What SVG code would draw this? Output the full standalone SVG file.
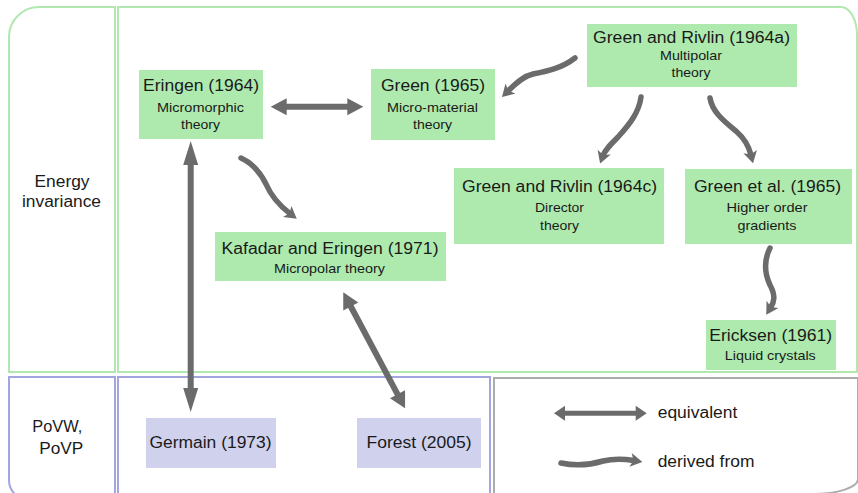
<svg xmlns="http://www.w3.org/2000/svg" width="858" height="493" viewBox="0 0 858 493">
<style>
text{font-family:"Liberation Sans",Arial,sans-serif;fill:#1a1a1a;text-anchor:middle}
.t{font-size:16px}
.s{font-size:13px}
.l{font-size:16px;text-anchor:start}
.gn{fill:#aeeaae}
.pv{fill:#d0d1ec}
.fg{fill:none;stroke:#b0e8b0;stroke-width:2}
.fb{fill:none;stroke:#a3a5e0;stroke-width:2}
.fy{fill:none;stroke:#acacac;stroke-width:2}
.eq{fill:none;stroke:#6b6b6b;stroke-width:6}
.eqs{fill:none;stroke:#6b6b6b;stroke-width:5}
.dv{fill:none;stroke:#6b6b6b;stroke-width:5.5;stroke-linecap:round;marker-end:url(#mdv)}
.hd{fill:#6b6b6b}
</style>
<defs>
<marker id="mh" markerUnits="userSpaceOnUse" markerWidth="16" markerHeight="17" refX="1" refY="8.5" orient="auto-start-reverse" overflow="visible"><path class="hd" d="M0,0 L16,8.5 L0,17 Z"/></marker>
<marker id="mv" markerUnits="userSpaceOnUse" markerWidth="24" markerHeight="15" refX="1" refY="7.5" orient="auto-start-reverse" overflow="visible"><path class="hd" d="M0,0 L24,7.5 L0,15 Z"/></marker>
<marker id="ms" markerUnits="userSpaceOnUse" markerWidth="11" markerHeight="15" refX="1" refY="7.5" orient="auto-start-reverse" overflow="visible"><path class="hd" d="M0,0 L11,7.5 L0,15 Z"/></marker>
<marker id="mdv" markerUnits="userSpaceOnUse" markerWidth="12" markerHeight="14" refX="3.5" refY="7" orient="auto" overflow="visible"><path class="hd" d="M0,0 L12,7 L0,14 L3,7 Z"/></marker>
</defs>

<g id="frames">
<path class="fg" d="M9,372 V37 A30,30 0 0 1 39,7 H115 V372 Z"/>
<path class="fg" d="M118,7 H841 A16,28 0 0 1 857,35 V372 H118 Z"/>
<path class="fb" d="M9,377 H115 V500 H29 A20,20 0 0 1 9,480 Z"/>
<path class="fb" d="M118,377 H490 V500 H118 Z"/>
<path class="fy" d="M494,378 H858 V479 A45,15 0 0 1 813,494 H494 Z"/>
</g>

<g id="labels">
<text class="t" x="62" y="187" textLength="55" lengthAdjust="spacingAndGlyphs">Energy</text>
<text class="t" x="61.5" y="207" textLength="79" lengthAdjust="spacingAndGlyphs">invariance</text>
<text class="l" x="32.3" y="432" textLength="50" lengthAdjust="spacingAndGlyphs">PoVW,</text>
<text class="l" x="39.3" y="454" textLength="44" lengthAdjust="spacingAndGlyphs">PoVP</text>
</g>

<g id="n-eringen">
<rect class="gn" x="139" y="70" width="124" height="69"/>
<text class="t" x="201" y="91" textLength="116" lengthAdjust="spacingAndGlyphs">Eringen (1964)</text>
<text class="s" x="200.5" y="112" textLength="87" lengthAdjust="spacingAndGlyphs">Micromorphic</text>
<text class="s" x="200.5" y="129" textLength="39" lengthAdjust="spacingAndGlyphs">theory</text>
</g>

<g id="n-green1965">
<rect class="gn" x="371" y="69" width="124" height="71"/>
<text class="t" x="433" y="91" textLength="104" lengthAdjust="spacingAndGlyphs">Green (1965)</text>
<text class="s" x="432.5" y="112" textLength="91" lengthAdjust="spacingAndGlyphs">Micro-material</text>
<text class="s" x="432.5" y="129" textLength="39" lengthAdjust="spacingAndGlyphs">theory</text>
</g>

<g id="n-gr1964a">
<rect class="gn" x="587" y="24" width="210" height="63"/>
<text class="t" x="691.5" y="43" textLength="197" lengthAdjust="spacingAndGlyphs">Green and Rivlin (1964a)</text>
<text class="s" x="691" y="60" textLength="62" lengthAdjust="spacingAndGlyphs">Multipolar</text>
<text class="s" x="691" y="77" textLength="39" lengthAdjust="spacingAndGlyphs">theory</text>
</g>

<g id="n-gr1964c">
<rect class="gn" x="454" y="168" width="210" height="76"/>
<text class="t" x="559.5" y="192" textLength="195" lengthAdjust="spacingAndGlyphs">Green and Rivlin (1964c)</text>
<text class="s" x="559.5" y="212" textLength="49" lengthAdjust="spacingAndGlyphs">Director</text>
<text class="s" x="559.5" y="230" textLength="39" lengthAdjust="spacingAndGlyphs">theory</text>
</g>

<g id="n-greenetal">
<rect class="gn" x="685" y="169" width="167" height="75"/>
<text class="t" x="767.5" y="192" textLength="147" lengthAdjust="spacingAndGlyphs">Green et al. (1965)</text>
<text class="s" x="767" y="212" textLength="81" lengthAdjust="spacingAndGlyphs">Higher order</text>
<text class="s" x="767" y="230" textLength="59" lengthAdjust="spacingAndGlyphs">gradients</text>
</g>

<g id="n-kafadar">
<rect class="gn" x="215" y="232" width="231" height="49"/>
<text class="t" x="330" y="254" textLength="217" lengthAdjust="spacingAndGlyphs">Kafadar and Eringen (1971)</text>
<text class="s" x="329.5" y="273" textLength="111" lengthAdjust="spacingAndGlyphs">Micropolar theory</text>
</g>

<g id="n-ericksen">
<rect class="gn" x="706" y="320" width="130" height="50"/>
<text class="t" x="770.7" y="341" textLength="123" lengthAdjust="spacingAndGlyphs">Ericksen (1961)</text>
<text class="s" x="770.3" y="360" textLength="91" lengthAdjust="spacingAndGlyphs">Liquid crystals</text>
</g>

<g id="n-germain">
<rect class="pv" x="146" y="418" width="130" height="50"/>
<text class="t" x="210.5" y="448" textLength="122" lengthAdjust="spacingAndGlyphs">Germain (1973)</text>
</g>

<g id="n-forest">
<rect class="pv" x="357" y="418" width="124" height="50"/>
<text class="t" x="419" y="448" textLength="105" lengthAdjust="spacingAndGlyphs">Forest (2005)</text>
</g>

<g id="connectors">
<line class="eq" x1="285.7" y1="106.7" x2="348.3" y2="106.7" marker-start="url(#mh)" marker-end="url(#mh)"/>
<line class="eq" x1="190.7" y1="164" x2="190.7" y2="389" marker-start="url(#mv)" marker-end="url(#mv)"/>
<line class="eq" x1="350.3" y1="305.5" x2="398" y2="395.1" marker-start="url(#mh)" marker-end="url(#mh)"/>
<path class="dv" d="M575,58 C562,68 548,71 533,74 C524,76 517,82 508,91"/>
<path class="dv" d="M641,97 C639,112 630,124 618,137 C610,145 605,150 603,155.5"/>
<path class="dv" d="M710,98 C712,112 725,122 737,132 C746,140 749,147 751,155"/>
<path class="dv" d="M241,158 C252,163 260,172 266,184 C272,198 280,206 290,213.6"/>
<path class="dv" d="M770,248 C764,260 764,272 770,285 C776,296 774,302 770.7,307.4"/>
</g>

<g id="legend">
<line class="eqs" x1="564" y1="413.3" x2="636.7" y2="413.3" marker-start="url(#ms)" marker-end="url(#ms)"/>
<path class="dv" d="M561,463 C575,466 590,465 603,461 C615,458 625,459 634,460.5"/>
<text class="l" x="657.7" y="418.3" textLength="79.6" lengthAdjust="spacingAndGlyphs">equivalent</text>
<text class="l" x="657.7" y="466.7" textLength="96.7" lengthAdjust="spacingAndGlyphs">derived from</text>
</g>
</svg>
